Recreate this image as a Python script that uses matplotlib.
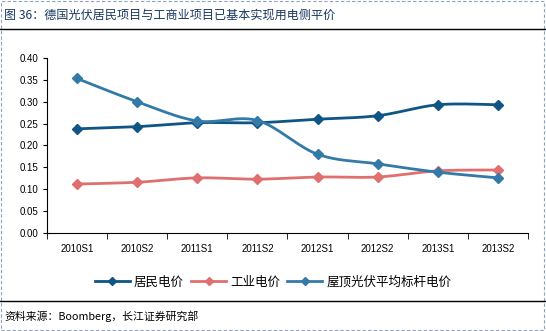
import numpy as np
import matplotlib
matplotlib.use("Agg")
from matplotlib import pyplot as plt
from matplotlib.lines import Line2D
from matplotlib.patches import Rectangle

plt.rcParams['font.family'] = ['Noto Sans CJK SC', 'DejaVu Sans']

# data
periods = ['2010S1', '2010S2', '2011S1', '2011S2', '2012S1', '2012S2', '2013S1', '2013S2']
resident = [0.238, 0.243, 0.252, 0.252, 0.260, 0.268, 0.293, 0.293]
industry = [0.112, 0.116, 0.126, 0.123, 0.128, 0.128, 0.142, 0.144]
rooftop = [0.353, 0.300, 0.256, 0.257, 0.180, 0.158, 0.139, 0.126]

c_res = '#0F5585'
c_ind = '#E07070'
c_roof = '#347AA8'


def smooth(x, y, n=20):
    # catmull-rom like excel smoothed lines
    x = np.asarray(x, float)
    y = np.asarray(y, float)
    px = np.concatenate([[x[0]], x, [x[-1]]])
    py = np.concatenate([[y[0]], y, [y[-1]]])
    xs, ys = [], []
    t = np.linspace(0, 1, n)
    for i in range(1, len(px) - 2):
        for p, out in ((px, xs), (py, ys)):
            p0, p1, p2, p3 = p[i - 1], p[i], p[i + 1], p[i + 2]
            m1 = (p2 - p0) / 6
            m2 = (p3 - p1) / 6
            b = ((1 - t) ** 3 * p1 + 3 * (1 - t) ** 2 * t * (p1 + m1)
                 + 3 * (1 - t) * t ** 2 * (p2 - m2) + t ** 3 * p2)
            out.extend(b)
    return xs, ys


fig = plt.figure(figsize=(5.46, 3.31), dpi=100)
ax = fig.add_axes([0.086, 0.296, 0.881, 0.529])

x = np.arange(len(periods))
for vals, col in ((resident, c_res), (industry, c_ind), (rooftop, c_roof)):
    sx, sy = smooth(x, vals)
    ax.plot(sx, sy, color=col, linewidth=2)
    ax.plot(x, vals, linestyle='none', marker='D', markersize=5, color=col)

ax.set_xlim(-0.5, len(periods) - 0.5)
ax.set_ylim(0, 0.40)
ax.set_yticks(np.arange(0, 0.41, 0.05))
ax.set_yticklabels(['%.2f' % v for v in np.arange(0, 0.41, 0.05)],
                   fontsize=7, family='Liberation Sans')
ax.set_xticks(x)
ax.set_xticklabels(periods, fontsize=7, family='Liberation Sans')
ax.set_xticks(np.arange(-0.5, len(periods), 1), minor=True)
ax.tick_params(axis='x', which='major', length=0, pad=8)
ax.tick_params(axis='x', which='minor', length=4, direction='out')
ax.tick_params(axis='y', length=3, direction='out', pad=3)
for s in ('top', 'right'):
    ax.spines[s].set_visible(False)
ax.spines['left'].set_color('black')
ax.spines['bottom'].set_color('black')

handles = [Line2D([0], [0], color=c, linewidth=2, marker='D', markersize=4)
           for c in (c_res, c_ind, c_roof)]
fig.legend(handles, ['居民电价', '工业电价', '屋顶光伏平均标杆电价'],
           loc='center', bbox_to_anchor=(0.5, 0.148), ncol=3, frameon=False,
           fontsize=9, handlelength=2.8, columnspacing=0.6, handletextpad=0.3)

# title, rules, source
fig.text(0.008, 0.955, '图 36：德国光伏居民项目与工商业项目已基本实现用电侧平价',
         fontsize=8.7, color='#17375E', va='center')
fig.add_artist(Line2D([0, 1], [0.912, 0.912], color='black', linewidth=1))
fig.add_artist(Line2D([0, 1], [0.091, 0.091], color='black', linewidth=1))
fig.text(0.008, 0.046, '资料来源：Boomberg，长江证券研究部', fontsize=7.8, va='center')
fig.add_artist(Rectangle((0.002, 0.003), 0.994, 0.993, fill=False,
                         edgecolor='#8FA3C0', linestyle=(0, (3, 2)), linewidth=0.8))

fig.savefig('out.png', dpi=100)
